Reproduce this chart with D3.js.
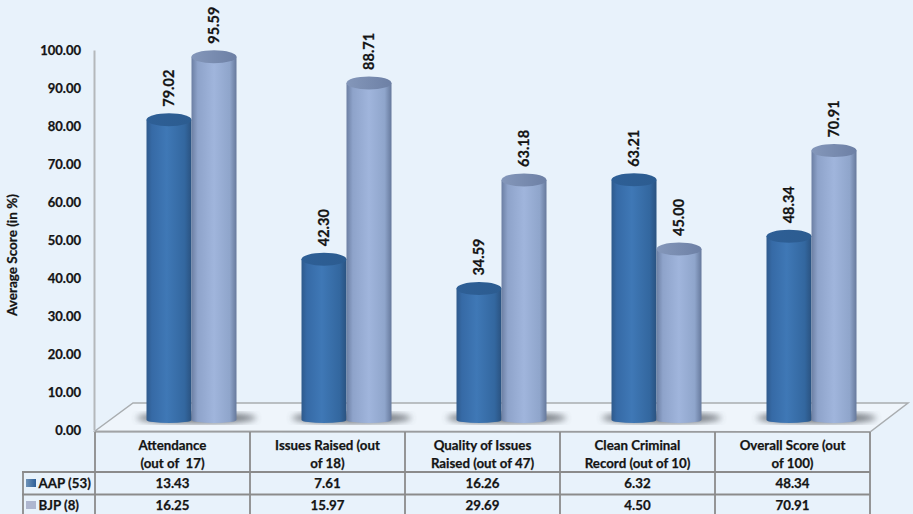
<!DOCTYPE html>
<html><head><meta charset="utf-8">
<script src="https://cdn.jsdelivr.net/npm/d3@7"></script>
<style>html,body{margin:0;padding:0;background:#e8f2fb;overflow:hidden}svg{display:block}text{font-family:Lato,sans-serif;font-weight:700;fill:#141414;stroke:#141414;stroke-width:.25px}</style>
</head><body><svg id="c" width="913" height="514"></svg>
<script>
const categories = ["Attendance","Issues Raised","Quality of Issues","Clean Criminal","Overall Score"];
const categoryLabels = [["Attendance","(out of  17)"],["Issues Raised (out","of 18)"],["Quality of Issues","Raised (out of 47)"],["Clean Criminal","Record (out of 10)"],["Overall Score (out","of 100)"]];
const seriesNames = ["AAP (53)","BJP (8)"];
const aapPercent = [79.02,42.30,34.59,63.21,48.34];
const bjpPercent = [95.59,88.71,63.18,45.00,70.91];
const aapScore = ["13.43","7.61","16.26","6.32","48.34"];
const bjpScore = ["16.25","15.97","29.69","4.50","70.91"];
const yTicks = [0,10,20,30,40,50,60,70,80,90,100];

const svg = d3.select("#c");
const x = d3.scaleBand().domain(categories).range([95,870]);
const inner = d3.scaleBand().domain(seriesNames).range([51.5,141.5]);
const y = d3.scaleLinear().domain([0,100]).range([430,50]);
const depth = 10, ry = 6.5;

const defs = svg.append("defs");
function grad(id, stops){
  const g = defs.append("linearGradient").attr("id",id);
  stops.forEach(s=>g.append("stop").attr("offset",s[0]).attr("stop-color",s[1]));
}
grad("dark",[[0,"#2f5a8c"],[.12,"#366aa6"],[.45,"#3f78b6"],[.85,"#33679f"],[1,"#2a5280"]]);
grad("light",[[0,"#6c7fa3"],[.14,"#8ea3ca"],[.5,"#a0b5dc"],[.85,"#8fa5cb"],[1,"#66799c"]]);
grad("darkTop",[[0,"#2e5f96"],[1,"#2c5c90"]]);
grad("lightTop",[[0,"#8497ba"],[1,"#6d80a5"]]);
grad("swA",[[0,"#6f93b8"],[1,"#2f6098"]]);
defs.append("filter").attr("id","blur").append("feGaussianBlur").attr("stdDeviation",3);

// floor
svg.append("polygon").attr("points",[[95,431],[133,403],[908,403],[870,432]].join(" "))
  .attr("fill","#eff5fb").attr("stroke","#a9adb0").attr("stroke-width",1.5);

// y axis
const axis = d3.axisLeft(y).tickValues(yTicks).tickFormat(d=>d.toFixed(2)).tickSize(0).tickPadding(13);
const gA = svg.append("g").attr("transform","translate(94,0)").call(axis);
gA.select(".domain").attr("stroke","#b4b8bb").attr("stroke-width",2);
gA.selectAll("text").attr("font-size",13).style("font-family","Lato,sans-serif");

svg.append("text").attr("transform","translate(17,255) rotate(-90)").attr("text-anchor","middle")
  .attr("font-size",13.5).text("Average Score (in %)");

const bars = seriesNames.map((s,i)=>({s,i,vals:i?bjpPercent:aapPercent}));
const w = inner.bandwidth(), baseY = y(0)-depth;

// floor shadows
categories.forEach(c=>{
  svg.append("ellipse").attr("cx",x(c)+inner.range()[0]+w+5).attr("cy",baseY-2)
   .attr("rx",w+15).attr("ry",5.5).attr("fill","#464c52").attr("opacity",.72).attr("filter","url(#blur)");
});

bars.forEach(b=>{
  const g = svg.append("g").selectAll("g").data(b.vals.map((v,k)=>({v,c:categories[k]}))).join("g")
    .attr("transform",d=>`translate(${x(d.c)+inner(b.s)},0)`);
  g.append("path").attr("fill",`url(#${b.i?"light":"dark"})`)
    .attr("d",d=>{const t=y(d.v)-depth;return `M0,${t}V${baseY}A${w/2},3 0 0 0 ${w},${baseY}V${t}Z`;});
  g.append("ellipse").attr("cx",w/2).attr("cy",d=>y(d.v)-depth).attr("rx",w/2).attr("ry",ry)
    .attr("fill",`url(#${b.i?"lightTop":"darkTop"})`);
  g.append("text").attr("transform",d=>`translate(${w/2+4.5},${y(d.v)-depth-13}) rotate(-90)`)
    .attr("font-size",14.5).text(d=>d.v.toFixed(2));
});

// table
const rowY = [432,472,494.5,516];
const line = "#8b8b8b";
const t = svg.append("g");
function rule(x1,y1,x2,y2,sw){t.append("line").attr("x1",x1).attr("y1",y1).attr("x2",x2).attr("y2",y2).attr("stroke",line).attr("stroke-width",sw);}
rule(95,rowY[0],870,rowY[0],1.2);
rule(22,rowY[1],870,rowY[1],1.8);
rule(22,rowY[2],870,rowY[2],1.8);
rule(23,rowY[1],23,514,1.8);
x.domain().forEach(c=>rule(x(c),rowY[0],x(c),514,1.8));
rule(870,rowY[0],870,514,1.8);
const cc = c=>x(c)+x.bandwidth()/2;
categories.forEach((c,k)=>{
  categoryLabels[k].forEach((l,j)=>t.append("text").attr("x",cc(c)).attr("y",450+j*17.5).attr("text-anchor","middle").attr("font-size",13.3).attr("xml:space","preserve").text(l));
  [aapScore,bjpScore].forEach((arr,r)=>t.append("text").attr("x",cc(c)).attr("y",(r?510:487.5)).attr("text-anchor","middle").attr("font-size",13.3).text(arr[k]));
});
seriesNames.forEach((s,r)=>{
  const yy=r?505:483;
  t.append("rect").attr("x",26).attr("y",yy-4).attr("width",10).attr("height",8).attr("fill",r?"#aeb6cf":"url(#swA)");
  t.append("text").attr("x",38.5).attr("y",r?510:487.5).attr("font-size",13.3).text(s);
});
</script></body></html>
